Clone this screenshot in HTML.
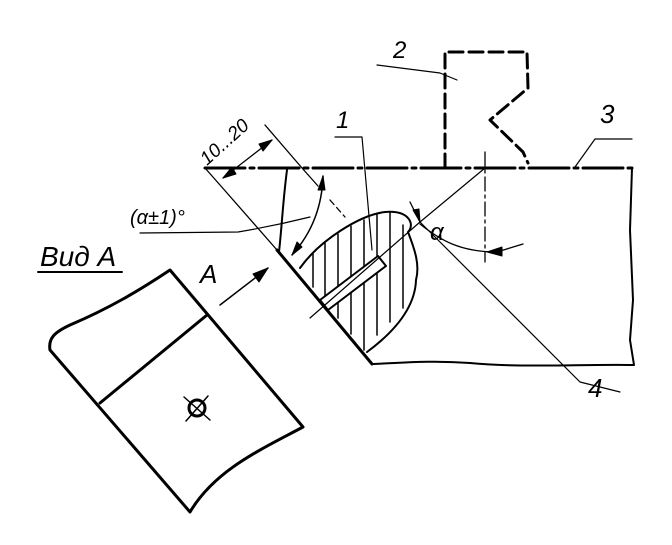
<!DOCTYPE html>
<html><head><meta charset="utf-8"><style>
html,body{margin:0;padding:0;background:#fff}
svg{display:block}
text{font-family:"Liberation Sans",sans-serif;font-style:italic;fill:#000}
</style></head><body>
<svg width="672" height="545" viewBox="0 0 672 545" xmlns="http://www.w3.org/2000/svg">
<g fill="none" stroke="#000" stroke-linecap="round" stroke-linejoin="round">
<path d="M205 168 L632 168" stroke-width="3" stroke-dasharray="40 5 4 5"/>
<path d="M632 168 L630 230 L633 300 L630 340 L634 365 C580 364 520 368 470 363 C430 360 400 363 372 364" stroke-width="2"/>
<path d="M277 250 L372 364" stroke-width="3"/>
<path d="M205 168 L220 185 L277 250" stroke-width="1.3"/>
<path d="M265 125 L302 168 L318 186" stroke-width="1.3"/>
<path d="M330 200 L345 217" stroke-width="1.3" stroke-dasharray="6 4"/>
<path d="M223 178 L272 140" stroke-width="1.3"/>
<path d="M223 178 L232 167 L236 174 Z M272 140 L263 151 L259 144 Z" fill="#000" stroke-width="1"/>
<path d="M287 170 C283 200 282 225 279 252" stroke-width="2"/>
<path d="M323 176 C322 210 310 235 292 255" stroke-width="1.5"/>
<path d="M323 176 L318 190 L325 190 Z M292 255 L297 242 L302 247 Z" fill="#000" stroke-width="1"/>
<path d="M140 233 L238 232 C262 228 290 222 310 217" stroke-width="1.2"/>
<path d="M300 268 C320 240 360 215 385 212 C410 210 415 225 408 232 C415 250 420 265 416 280 C415 310 390 335 367 352" stroke-width="2"/>
<g stroke-width="1.5">
<path d="M313 254 L313 287"/><path d="M325 243 L325 302"/><path d="M338 234 L338 318"/><path d="M351 226 L351 334"/><path d="M364 220 L364 350"/><path d="M377 215 L377 335"/><path d="M390 213 L390 322"/><path d="M403 225 L403 308"/>
</g>
<path d="M320 300 L378 256 L386 266 L328 310 Z" fill="#fff" stroke-width="2"/>
<path d="M310 318 L420 222 L485 168" stroke-width="1.2"/>
<path d="M420 222 L580 382 L620 392" stroke-width="1.2"/>
<path d="M410 202 L420 222" stroke-width="1.3"/>
<path d="M420 222 L413 210 L419 209 Z" fill="#000"/>
<path d="M485 152 L485 262" stroke-width="1.3" stroke-dasharray="14 4 3 4"/>
<path d="M420 224 C440 240 460 252 497 252 L523 244" stroke-width="1.3"/>
<path d="M487 252 L502 247 L502 256 Z" fill="#000"/>
<path d="M335 137 L362 137 L372 250" stroke-width="1.2"/>
<path d="M445 168 L445 52 L527 52 L528 88 L490 120 L523 152 L528 163" stroke-width="3" stroke-dasharray="14 6"/>
<path d="M377 65 L440 73 L457 80" stroke-width="1.2"/>
<path d="M632 139 L595 139 L575 167" stroke-width="1.2"/>
<path d="M38 272 L122 272" stroke-width="2"/>
<path d="M220 305 L268 268" stroke-width="1.5"/>
<path d="M268 268 L253 274 L259 282 Z" fill="#000"/>
<path d="M170 270 L303 427 C260 450 215 470 190 512 L50 350 C48 338 55 332 70 325 C110 308 140 290 170 270 Z" stroke-width="3"/>
<path d="M207 315 L100 403" stroke-width="3"/>
<circle cx="197" cy="408" r="8" stroke-width="3"/>
<path d="M184 397 L210 420 M208 396 L186 421" stroke-width="1.5"/>
</g>
<text x="336" y="128" font-size="24">1</text>
<text x="393" y="58" font-size="24">2</text>
<text x="600" y="123" font-size="26">3</text>
<text x="588" y="397" font-size="26">4</text>
<text x="430" y="240" font-size="24">α</text>
<text x="130" y="224" font-size="20">(α±1)°</text>
<text x="40" y="266" font-size="28">Вид А</text>
<text x="200" y="283" font-size="26">А</text>
<text x="0" y="0" font-size="19" transform="translate(207 166) rotate(-42)">10...20</text>
</svg>
</body></html>
